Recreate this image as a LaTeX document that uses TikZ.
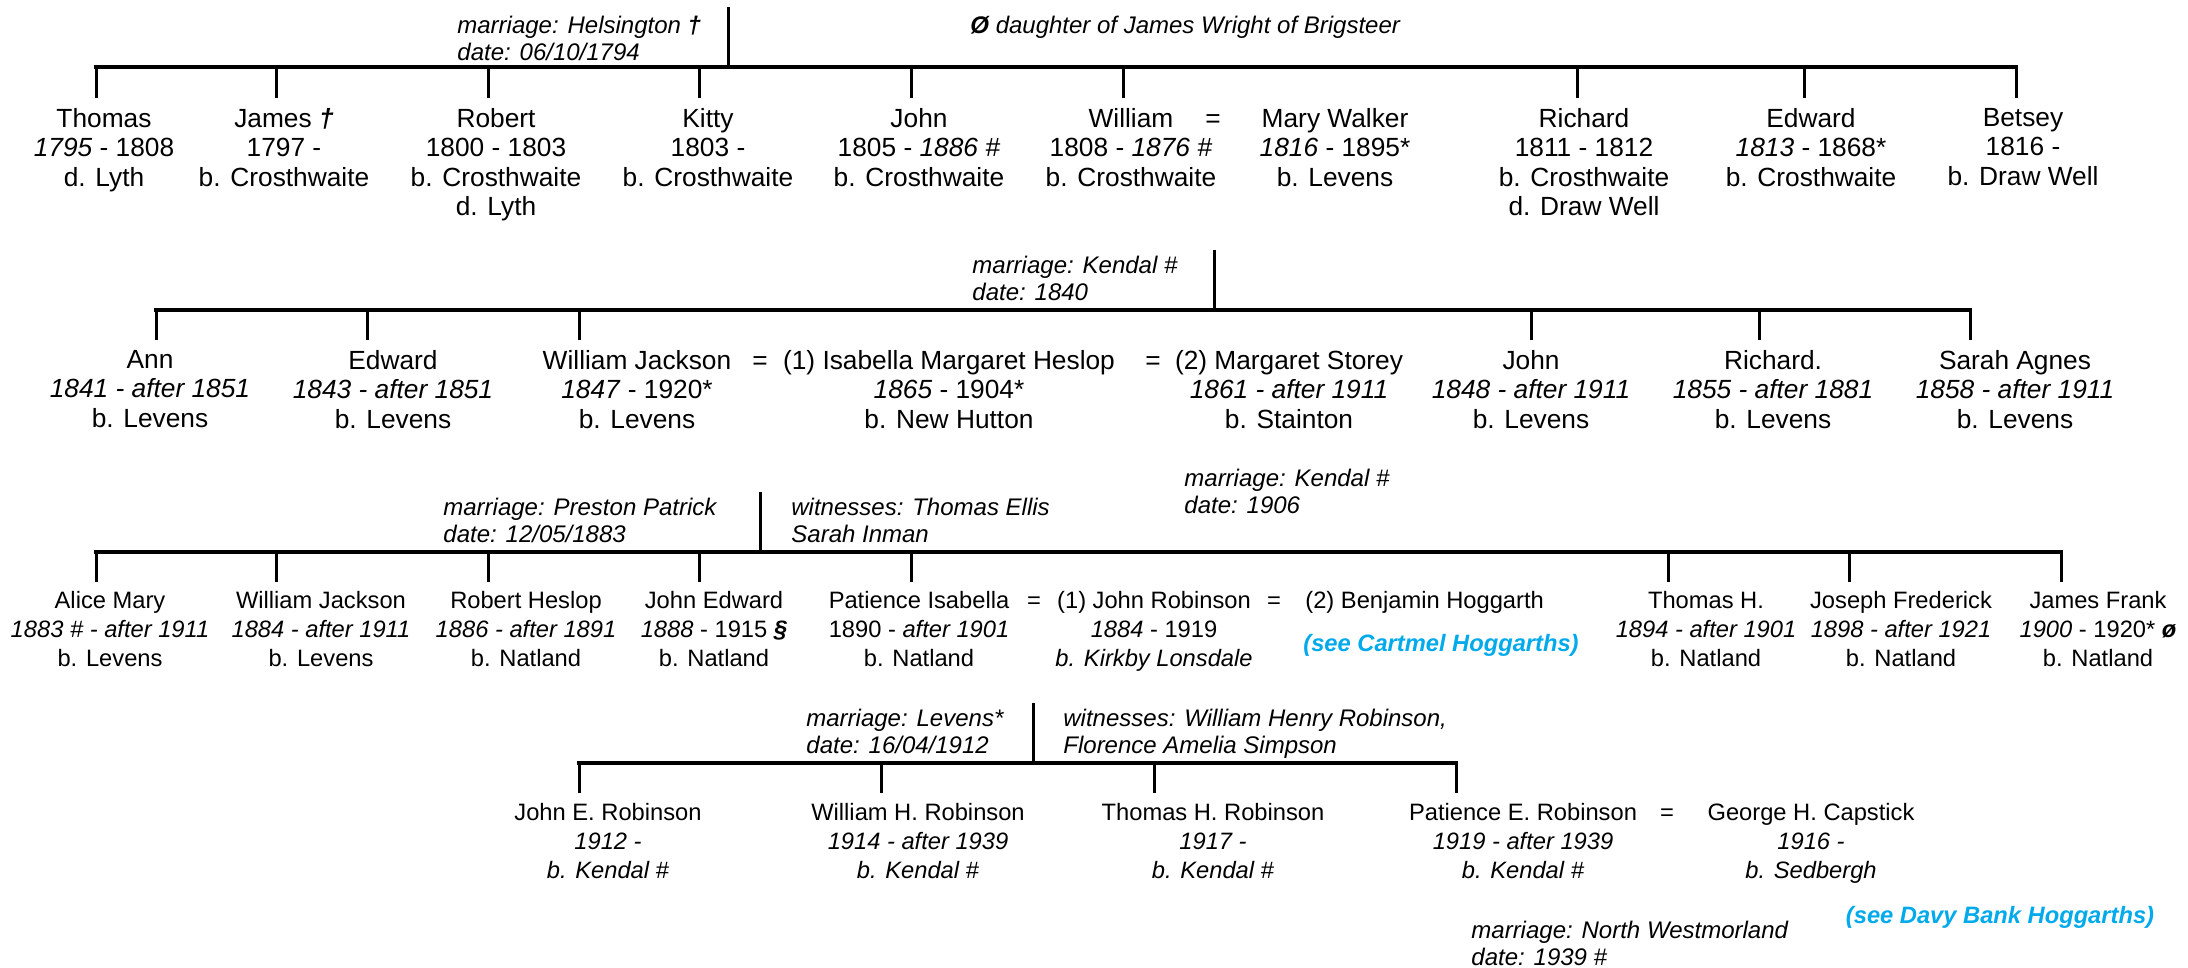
\documentclass[tikz,border=0pt]{standalone}
\usepackage{fontspec}
\setmainfont{Liberation Sans}
\definecolor{linkblue}{RGB}{0,170,235}
\begin{document}
\begin{tikzpicture}[x=0.5pt,y=-0.5pt,
  bar/.style={line width=2pt, line cap=rect},
  stem/.style={line width=1.5pt},
  pA/.style={inner sep=0pt, align=center, anchor=north, font=\fontsize{13.15}{14.75}\selectfont},
  pB/.style={inner sep=0pt, align=center, anchor=north, font=\fontsize{11.85}{14.4}\selectfont},
  pBw/.style={pB, anchor=north west},
  eqA/.style={inner sep=0pt, anchor=base, font=\fontsize{13.15}{14.75}\selectfont},
  eqB/.style={inner sep=0pt, anchor=base, font=\fontsize{11.85}{14.4}\selectfont},
  note/.style={inner sep=0pt, align=left, anchor=north west, font=\fontsize{12}{13.25}\selectfont\itshape},
  link/.style={inner sep=0pt, font=\fontsize{11.85}{14}\selectfont\bfseries\itshape, text=linkblue}
]
\fill[white] (0,0) rectangle (2188,968);
\useasboundingbox (0,0) rectangle (2188,968);

% ---------------- Row 1 ----------------
\node[note] (n1a) at (457,16) {marriage: Helsington \textbf{†}\\date: 06/10/1794};
\node[note] (n1b) at (970,16) {\textbf{Ø} daughter of James Wright of Brigsteer};

\node[pA] (thomas) at (104,108) {Thomas\\\textit{1795} - 1808\\d. Lyth};
\node[pA] (james) at (284,108) {James \textbf{\textit{†}}\\1797 -\\b. Crosthwaite};
\node[pA] (robert) at (496,108) {Robert\\1800 - 1803\\b. Crosthwaite\\d. Lyth};
\node[pA] (kitty) at (708,108) {Kitty\\1803 -\\b. Crosthwaite};
\node[pA] (john) at (919,108) {John\\1805 - \textit{1886 \#}\\b. Crosthwaite};
\node[pA] (william) at (1131,108) {William\\1808 - \textit{1876 \#}\\b. Crosthwaite};
\node[eqA] (eq1) at (1213,127.4) {=};
\node[pA] (mary) at (1335,108) {Mary Walker\\\textit{1816} - 1895*\\b. Levens};
\node[pA] (richard) at (1584,108) {Richard\\1811 - 1812\\b. Crosthwaite\\d. Draw Well};
\node[pA] (edward) at (1811,108) {Edward\\\textit{1813} - 1868*\\b. Crosthwaite};
\node[pA] (betsey) at (2023,108) {Betsey\\1816 -\\b. Draw Well};

\coordinate (m1) at (728,7);
\coordinate (j1) at (728,67);
\coordinate (d1a) at (96,98);
\coordinate (d1b) at (276,98);
\coordinate (d1c) at (488,98);
\coordinate (d1d) at (699,98);
\coordinate (d1e) at (911,98);
\coordinate (d1f) at (1123,98);
\coordinate (d1g) at (1577,98);
\coordinate (d1h) at (1804,98);
\coordinate (d1i) at (2016,98);
\draw[stem] (m1) -- (j1);
\draw[bar] (d1a |- j1) -- (d1i |- j1);
\foreach \d in {d1a,d1b,d1c,d1d,d1e,d1f,d1g,d1h,d1i}
  \draw[stem] (\d |- j1) -- (\d);

% ---------------- Row 2 ----------------
\node[note] (n2a) at (972,256) {marriage: Kendal \#\\date: 1840};

\node[pA] (ann) at (150,350) {Ann\\\textit{1841 - after 1851}\\b. Levens};
\node[pA] (edward2) at (393,350) {Edward\\\textit{1843 - after 1851}\\b. Levens};
\node[pA] (wj) at (637,350) {William Jackson\\\textit{1847} - 1920*\\b. Levens};
\node[eqA] (eq2a) at (760,369.4) {=};
\node[pA] (isabella) at (949,350) {(1) Isabella Margaret Heslop\\\textit{1865} - 1904*\\b. New Hutton};
\node[eqA] (eq2b) at (1153,369.4) {=};
\node[pA] (margaret) at (1289,350) {(2) Margaret Storey\\\textit{1861 - after 1911}\\b. Stainton};
\node[pA] (john2) at (1531,350) {John\\\textit{1848 - after 1911}\\b. Levens};
\node[pA] (richard2) at (1773,350) {Richard.\\\textit{1855 - after 1881}\\b. Levens};
\node[pA] (sarah) at (2015,350) {Sarah Agnes\\\textit{1858 - after 1911}\\b. Levens};

\coordinate (m2) at (1214,250);
\coordinate (j2) at (1214,310);
\coordinate (d2a) at (156,340);
\coordinate (d2b) at (367,340);
\coordinate (d2c) at (579,340);
\coordinate (d2d) at (1531,340);
\coordinate (d2e) at (1759,340);
\coordinate (d2f) at (1970,340);
\draw[stem] (m2) -- (j2);
\draw[bar] (d2a |- j2) -- (d2f |- j2);
\foreach \d in {d2a,d2b,d2c,d2d,d2e,d2f}
  \draw[stem] (\d |- j2) -- (\d);

% ---------------- Row 3 ----------------
\node[note] (n3a) at (443,498) {marriage: Preston Patrick\\date: 12/05/1883};
\node[note] (n3b) at (791,498) {witnesses: Thomas Ellis\\Sarah Inman};
\node[note] (n3c) at (1184,469) {marriage: Kendal \#\\date: 1906};

\node[pB] (alice) at (110,591) {Alice Mary\\\textit{1883 \# - after 1911}\\b. Levens};
\node[pB] (wj3) at (321,591) {William Jackson\\\textit{1884 - after 1911}\\b. Levens};
\node[pB] (roberth) at (526,591) {Robert Heslop\\\textit{1886 - after 1891}\\b. Natland};
\node[pB] (johne) at (714,591) {John Edward\\\textit{1888} - 1915 \textbf{\textit{§}}\\b. Natland};
\node[pB] (patiencei) at (919,591) {Patience Isabella\\1890 - \textit{after 1901}\\b. Natland};
\node[eqB] (eq3a) at (1034,608.5) {=};
\node[pB] (johnr) at (1154,591) {(1) John Robinson\\\textit{1884} - 1919\\\textit{b. Kirkby Lonsdale}};
\node[eqB] (eq3b) at (1274,608.5) {=};
\node[pBw] (benjamin) at (1305,591) {(2) Benjamin Hoggarth};
\node[link, anchor=north west] (cartmel) at (1303,634) {(see Cartmel Hoggarths)};
\node[pB] (thomash) at (1706,591) {Thomas H.\\\textit{1894 - after 1901}\\b. Natland};
\node[pB] (joseph) at (1901,591) {Joseph Frederick\\\textit{1898 - after 1921}\\b. Natland};
\node[pB] (jamesf) at (2098,591) {James Frank\\\textit{1900} - 1920* \textbf{\textit{ø}}\\b. Natland};

\coordinate (m3) at (760,492);
\coordinate (j3) at (760,552);
\coordinate (d3a) at (96,582);
\coordinate (d3b) at (276,582);
\coordinate (d3c) at (488,582);
\coordinate (d3d) at (699,582);
\coordinate (d3e) at (911,582);
\coordinate (d3f) at (1668,582);
\coordinate (d3g) at (1849,582);
\coordinate (d3h) at (2061,582);
\draw[stem] (m3) -- (j3);
\draw[bar] (d3a |- j3) -- (d3h |- j3);
\foreach \d in {d3a,d3b,d3c,d3d,d3e,d3f,d3g,d3h}
  \draw[stem] (\d |- j3) -- (\d);

% ---------------- Row 4 ----------------
\node[note] (n4a) at (806,709) {marriage: Levens*\\date: 16/04/1912};
\node[note] (n4b) at (1063,709) {witnesses: William Henry Robinson,\\Florence Amelia Simpson};
\node[note] (n4c) at (1471,921) {marriage: North Westmorland\\date: 1939 \#};

\node[pB] (johner) at (608,803) {John E. Robinson\\\textit{1912 -}\\\textit{b. Kendal \#}};
\node[pB] (williamhr) at (918,803) {William H. Robinson\\\textit{1914 - after 1939}\\\textit{b. Kendal \#}};
\node[pB] (thomashr) at (1213,803) {Thomas H. Robinson\\\textit{1917 -}\\\textit{b. Kendal \#}};
\node[pB] (patienceer) at (1523,803) {Patience E. Robinson\\\textit{1919 - after 1939}\\\textit{b. Kendal \#}};
\node[eqB] (eq4) at (1667,820.5) {=};
\node[pB] (george) at (1811,803) {George H. Capstick\\\textit{1916 -}\\\textit{b. Sedbergh}};
\node[link, anchor=north] (davy) at (2000,906) {(see Davy Bank Hoggarths)};

\coordinate (m4) at (1033,703);
\coordinate (j4) at (1033,763);
\coordinate (d4a) at (579,793);
\coordinate (d4b) at (881,793);
\coordinate (d4c) at (1154,793);
\coordinate (d4d) at (1456,793);
\draw[stem] (m4) -- (j4);
\draw[bar] (d4a |- j4) -- (d4d |- j4);
\foreach \d in {d4a,d4b,d4c,d4d}
  \draw[stem] (\d |- j4) -- (\d);
\end{tikzpicture}
\end{document}
